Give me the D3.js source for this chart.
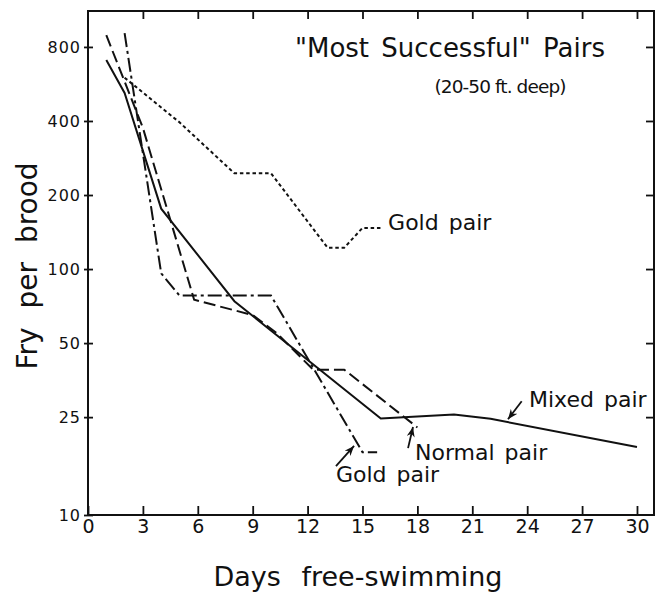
<!DOCTYPE html>
<html>
<head>
<meta charset="UTF-8">
<title>Most Successful Pairs</title>
<style>
  body { margin: 0; background: #fff; }
  svg text { font-family: 'DejaVu Sans', sans-serif; fill: #111; }
</style>
</head>
<body>
<script src="https://cdn.jsdelivr.net/npm/d3@7"></script>
<script>

  // Values: days free-swimming vs fry per brood
  var mixedDays = [1, 2, 4, 8, 16, 20, 22, 30];
  var mixedFry  = [708, 520, 176, 74, 24.7, 25.6, 24.6, 18.9];

  var normalDays = [1, 3, 5.8, 9, 10.3, 12.3, 14, 18];
  var normalFry  = [893, 375, 75, 65, 55, 39, 39, 22.7];

  // gold pair, dash-dot (lower one)
  var goldLowDays = [2, 4, 5, 10, 15, 15.8];
  var goldLowFry  = [910, 96, 78, 78, 18, 18];

  // gold pair, dotted (upper one)
  var goldHighDays = [2, 5, 8, 10, 13.1, 14, 15, 16];
  var goldHighFry  = [600, 395, 245, 245, 122, 122, 147, 147];

  var xTicks = [0, 3, 6, 9, 12, 15, 18, 21, 24, 27, 30];
  var yTicks = [10, 25, 50, 100, 200, 400, 800];

  // Build svg and canvas
  var svgWidth = 659,
      svgHeight = 592,
      margin = {top: 11, right: 5, bottom: 77, left: 88},
      width = svgWidth - margin.left - margin.right,
      height = svgHeight - margin.top - margin.bottom;

  var svg = d3.select("body")
              .append("svg")
              .attr("width", svgWidth)
              .attr("height", svgHeight);

  svg.append("defs").append("marker")
     .attr("id", "arrow")
     .attr("viewBox", "0 0 10 8")
     .attr("refX", 10)
     .attr("refY", 4)
     .attr("markerWidth", 10)
     .attr("markerHeight", 8)
     .attr("markerUnits", "userSpaceOnUse")
     .attr("orient", "auto")
     .append("path")
     .attr("d", "M0,0 L10,4 L0,8 L3,4 Z")
     .attr("fill", "#111");

  var canvas = svg.append("g")
                  .attr("transform", "translate(" + margin.left + "," + margin.top + ")");

  // Scales
  var xScale = d3.scaleLinear().domain([0, 30.93]).range([0, width]);
  var yScale = d3.scaleLog().domain([10, 1120]).range([height, 0]);

  // Axes
  var gx = canvas.append("g")
        .attr("transform", "translate(0," + height + ")")
        .call(d3.axisBottom(xScale).tickValues(xTicks).tickSize(-9).tickPadding(5).tickFormat(d3.format("d")));
  gx.select(".domain").remove();
  gx.selectAll("text").attr("font-size", 19).attr("font-family", "DejaVu Sans");

  var gy = canvas.append("g")
        .call(d3.axisLeft(yScale).tickValues(yTicks).tickSize(4).tickPadding(3).tickFormat(d3.format("d")));
  gy.select(".domain").remove();
  gy.selectAll(".tick line").attr("x1", 5).attr("x2", -4);
  gy.selectAll("text").attr("font-size", 16).attr("letter-spacing", 1).attr("font-family", "DejaVu Sans");

  var gTop = canvas.append("g")
        .call(d3.axisTop(xScale).tickValues(xTicks.slice(1)).tickSize(-8).tickFormat(""));
  gTop.select(".domain").remove();

  var gRight = canvas.append("g")
        .attr("transform", "translate(" + width + ",0)")
        .call(d3.axisRight(yScale).tickValues(yTicks.slice(1)).tickSize(-8).tickFormat(""));
  gRight.select(".domain").remove();

  canvas.selectAll(".tick line").attr("stroke", "#111").attr("stroke-width", 1.8);

  // Frame
  canvas.append("rect")
        .attr("width", width)
        .attr("height", height)
        .attr("fill", "none")
        .attr("stroke", "#111")
        .attr("stroke-width", 2);

  // Series
  var line = d3.line()
               .x(d => xScale(d[0]))
               .y(d => yScale(d[1]));

  var series = [
    {pts: d3.zip(goldHighDays, goldHighFry), dash: "3.5,2.8"},
    {pts: d3.zip(goldLowDays, goldLowFry), dash: "14,4,3,4"},
    {pts: d3.zip(normalDays, normalFry), dash: "12,5"},
    {pts: d3.zip(mixedDays, mixedFry), dash: null}
  ];

  canvas.selectAll("path.series")
        .data(series)
        .enter()
        .append("path")
        .attr("class", "series")
        .attr("d", d => line(d.pts))
        .attr("fill", "none")
        .attr("stroke", "#111")
        .attr("stroke-width", 2)
        .attr("stroke-dasharray", d => d.dash);

  // Labels and arrows (placed in data coordinates)
  var notes = [
    {text: "Gold pair", day: 16.4, fry: 144},
    {text: "Mixed pair", day: 24.1, fry: 27.5},
    {text: "Normal pair", day: 17.87, fry: 16.7},
    {text: "Gold pair", day: 13.55, fry: 13.6}
  ];

  var arrows = [
    {from: [23.7, 29.0], to: [22.95, 24.5]},
    {from: [17.49, 18.7], to: [17.76, 22.8]},
    {from: [13.55, 15.8], to: [14.54, 19.1]}
  ];

  canvas.selectAll("text.note")
        .data(notes)
        .enter()
        .append("text")
        .attr("class", "note")
        .attr("x", d => xScale(d.day))
        .attr("y", d => yScale(d.fry))
        .attr("font-size", 22)
        .attr("word-spacing", 3)
        .text(d => d.text);

  canvas.selectAll("line.arrow")
        .data(arrows)
        .enter()
        .append("line")
        .attr("class", "arrow")
        .attr("x1", d => xScale(d.from[0]))
        .attr("y1", d => yScale(d.from[1]))
        .attr("x2", d => xScale(d.to[0]))
        .attr("y2", d => yScale(d.to[1]))
        .attr("stroke", "#111")
        .attr("stroke-width", 1.8)
        .attr("marker-end", "url(#arrow)");

  // Titles
  canvas.append("text")
        .attr("x", 207)
        .attr("y", 46)
        .attr("font-size", 26)
        .attr("word-spacing", 4)
        .text("\"Most Successful\" Pairs");

  canvas.append("text")
        .attr("x", 412)
        .attr("y", 82)
        .attr("text-anchor", "middle")
        .attr("font-size", 18.5)
        .attr("letter-spacing", -0.9)
        .text("(20-50 ft. deep)");

  svg.append("text")
     .attr("x", 358)
     .attr("y", 586)
     .attr("text-anchor", "middle")
     .attr("font-size", 27)
     .attr("word-spacing", 12)
     .text("Days free-swimming");

  svg.append("text")
     .attr("transform", "translate(37,266) rotate(-90)")
     .attr("text-anchor", "middle")
     .attr("font-size", 28)
     .attr("word-spacing", 10)
     .text("Fry per brood");

</script>
</body>
</html>
